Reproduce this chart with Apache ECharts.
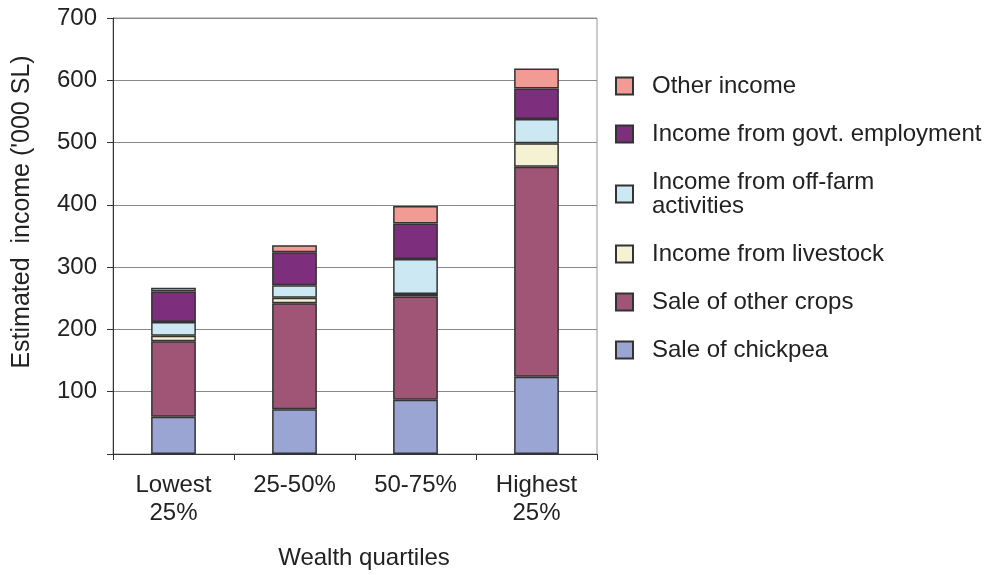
<!DOCTYPE html>
<html>
<head>
<meta charset="utf-8">
<script src="https://cdn.jsdelivr.net/npm/echarts@6/dist/echarts.min.js"></script>
<style>html,body{margin:0;padding:0;background:#fff;}#chart{width:985px;height:575px;}</style>
</head>
<body>
<div id="chart"></div>
<script>
const categories = ['Lowest\n25%', '25-50%', '50-75%', 'Highest\n25%'];
const seriesNames = ['Sale of chickpea', 'Sale of other crops', 'Income from livestock', 'Income from off-farm activities', 'Income from govt. employment', 'Other income'];
const chickpea = [60, 72, 87, 124];
const otherCrops = [121, 170, 166, 337];
const livestock = [9, 9, 4, 38];
const offFarm = [22, 20, 56, 39];
const govtEmployment = [49, 53, 57, 49];
const otherIncome = [6, 11, 28, 32];
const yTicks = [0, 100, 200, 300, 400, 500, 600, 700];

const values = [chickpea, otherCrops, livestock, offFarm, govtEmployment, otherIncome];
const colors = ['#9aa5d4', '#a05577', '#f4f2d2', '#cce9f3', '#7d2e7c', '#f29b95'];
const FONT = '"Liberation Sans", Arial, sans-serif';
const FS = 24;
const chart = echarts.init(document.getElementById('chart'), null, {renderer: 'canvas'});
chart.setOption({
  animation: false,
  backgroundColor: '#fff',
  textStyle: {fontFamily: FONT},
  grid: {left: 113, right: 388, top: 18, bottom: 114, show: true, borderColor: '#999', borderWidth: 1, backgroundColor: 'transparent'},
  legend: {
    orient: 'vertical', left: 615, top: 74, padding: 0,
    data: seriesNames.slice().reverse(),
    icon: 'rect', itemWidth: 17, itemHeight: 17, itemGap: 24,
    formatter: n => n === 'Income from off-farm activities' ? 'Income from off-farm\nactivities' : n,
    textStyle: {fontSize: FS, color: '#222', fontFamily: FONT, lineHeight: 24, padding: [0, 0, 0, 14]}
  },
  xAxis: {
    type: 'category', data: categories,
    name: 'Wealth quartiles', nameLocation: 'middle', nameGap: 92,
    nameTextStyle: {fontSize: FS, color: '#222', fontFamily: FONT, padding: [0, 0, 0, 18]},
    axisLine: {lineStyle: {color: '#333', width: 1}},
    axisTick: {show: true, length: 6, lineStyle: {color: '#333'}},
    axisLabel: {fontSize: FS, color: '#222', fontFamily: FONT, lineHeight: 28, margin: 17, interval: 0}
  },
  yAxis: {
    type: 'value', min: yTicks[0], max: yTicks[yTicks.length - 1], interval: 100,
    name: "Estimated  income ('000 SL)", nameLocation: 'middle', nameGap: 78,
    nameTextStyle: {fontSize: 25, color: '#222', fontFamily: FONT, padding: [0, 0, 0, 48]},
    axisLine: {show: true, lineStyle: {color: '#333', width: 1}},
    axisTick: {show: true, length: 6, lineStyle: {color: '#333'}},
    axisLabel: {fontSize: FS, color: '#222', fontFamily: FONT, margin: 16, formatter: v => v === 0 ? '' : String(v)},
    splitLine: {show: true, lineStyle: {color: '#888', width: 1}}
  },
  series: seriesNames.map((name, i) => ({
    name: name, type: 'bar', stack: 'total', barWidth: '37%',
    data: values[i],
    itemStyle: {color: colors[i], borderColor: '#333', borderWidth: 1.5}
  }))
});
</script>
</body>
</html>
